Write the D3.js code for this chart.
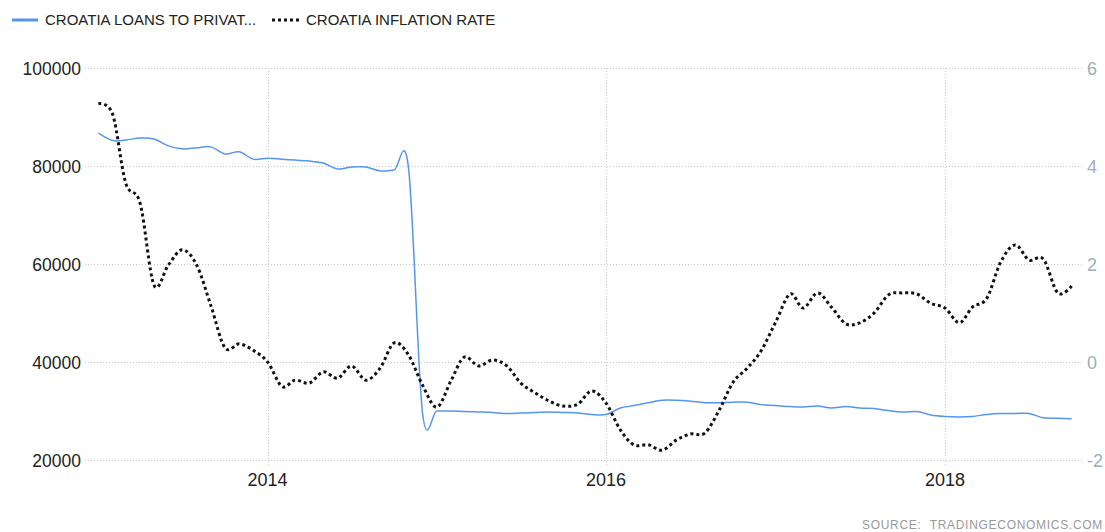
<!DOCTYPE html>
<html>
<head>
<meta charset="utf-8">
<script src="https://cdn.jsdelivr.net/npm/d3@7"></script>
<style>
  body { margin: 0; background: #fff; }
  svg { display: block; }
</style>
</head>
<body>
<svg width="1105" height="532"></svg>
<script>
// monthly observations, Jan 2013 .. Oct 2018
const months = d3.timeMonth.range(new Date(2013, 0, 1), new Date(2018, 10, 1));

// loans to private sector (left axis)
const loans = [86700, 85200, 85300, 85700, 85500, 84100, 83500, 83700, 83900, 82450,
  82900, 81400, 81600, 81400, 81200, 81000, 80600, 79400, 79800, 79800,
  79000, 79200, 79500, 29700, 30000, 30000, 29900, 29800, 29700, 29500,
  29600, 29700, 29800, 29700, 29600, 29300, 29300, 30600, 31100, 31700,
  32200, 32200, 32000, 31700, 31700, 31800, 31800, 31300, 31100, 30900,
  30800, 31000, 30600, 30900, 30600, 30500, 30100, 29800, 29900, 29200,
  28900, 28800, 28900, 29300, 29500, 29500, 29500, 28600, 28500, 28400];

// inflation rate (right axis)
const inflation = [5.27, 5.05, 3.65, 3.24, 1.57, 1.98, 2.29, 1.98, 1.14, 0.29,
  0.37, 0.24, 0.0, -0.5, -0.37, -0.43, -0.2, -0.33, -0.08, -0.37,
  -0.12, 0.39, 0.14, -0.47, -0.92, -0.37, 0.1, -0.08, 0.04, -0.08,
  -0.43, -0.63, -0.8, -0.9, -0.86, -0.59, -0.84, -1.39, -1.69, -1.69,
  -1.8, -1.59, -1.47, -1.45, -0.98, -0.41, -0.12, 0.24, 0.82, 1.39,
  1.1, 1.41, 1.12, 0.78, 0.8, 1.0, 1.37, 1.41, 1.39, 1.2,
  1.1, 0.8, 1.12, 1.3, 2.04, 2.39, 2.08, 2.1, 1.41, 1.55];

const leftTicks = [20000, 40000, 60000, 80000, 100000];
const rightTicks = [-2, 0, 2, 4, 6];
const yearTicks = [2014, 2016, 2018];
const legendNames = ['CROATIA LOANS TO PRIVAT...', 'CROATIA INFLATION RATE'];
const source = 'SOURCE:\u00a0\u00a0TRADINGECONOMICS.COM';

const svg = d3.select('svg');

// plot box
const gridLeft = 85;
const gridRight = 1082;
const plotTop = 68;
const plotBottom = 460;

const x = d3.scaleTime()
    .domain([new Date(2012, 11, 1), new Date(2018, 10, 1)])
    .range([84, 1086]);
const yLeft = d3.scaleLinear().domain([20000, 100000]).range([plotBottom, plotTop]);
const yRight = d3.scaleLinear().domain([-2, 6]).range([plotBottom, plotTop]);

const axisFont = '"Liberation Sans", Arial, sans-serif';

//horizontal grid
svg.append('g')
  .selectAll('line')
  .data(leftTicks)
  .join('line')
    .attr('x1', gridLeft)
    .attr('x2', gridRight)
    .attr('y1', d => yLeft(d) + 0.5)
    .attr('y2', d => yLeft(d) + 0.5)
    .attr('stroke', '#c8c8c8')
    .attr('stroke-dasharray', '1,2');

//vertical grid at years
svg.append('g')
  .selectAll('line')
  .data(yearTicks)
  .join('line')
    .attr('x1', d => Math.round(x(new Date(d, 0, 1))) + 0.5)
    .attr('x2', d => Math.round(x(new Date(d, 0, 1))) + 0.5)
    .attr('y1', plotTop)
    .attr('y2', plotBottom + 6)
    .attr('stroke', '#c8c8c8')
    .attr('stroke-dasharray', '1,2');

//left labels
svg.append('g')
  .selectAll('text')
  .data(leftTicks)
  .join('text')
    .attr('x', 81)
    .attr('y', d => yLeft(d) + 7)
    .attr('text-anchor', 'end')
    .attr('font-family', axisFont)
    .attr('font-size', 17.5)
    .attr('fill', '#222')
    .text(d => d);

//right labels
svg.append('g')
  .selectAll('text')
  .data(rightTicks)
  .join('text')
    .attr('x', 1087)
    .attr('y', d => yRight(d) + 7)
    .attr('font-family', axisFont)
    .attr('font-size', 18)
    .attr('fill', '#a3acb8')
    .text(d => d);

//year labels
svg.append('g')
  .selectAll('text')
  .data(yearTicks)
  .join('text')
    .attr('x', d => x(new Date(d, 0, 1)))
    .attr('y', 486)
    .attr('text-anchor', 'middle')
    .attr('font-family', axisFont)
    .attr('font-size', 18)
    .attr('fill', '#222')
    .text(d => d);

const curve = d3.curveCardinal.tension(0);

//loans line
const loansLine = d3.line()
    .x((d, i) => x(months[i]))
    .y(d => yLeft(d))
    .curve(curve);

svg.append('path')
    .attr('d', loansLine(loans))
    .attr('fill', 'none')
    .attr('stroke', '#5596ec')
    .attr('stroke-width', 1.5);

//inflation line
const inflLine = d3.line()
    .x((d, i) => x(months[i]))
    .y(d => yRight(d))
    .curve(curve);

svg.append('path')
    .attr('d', inflLine(inflation))
    .attr('fill', 'none')
    .attr('stroke', '#111')
    .attr('stroke-width', 3)
    .attr('stroke-dasharray', '3,3');

//legend
const legend = svg.append('g');
legend.append('line')
    .attr('x1', 12).attr('x2', 38)
    .attr('y1', 20).attr('y2', 20)
    .attr('stroke', '#5596ec')
    .attr('stroke-width', 3);
legend.append('text')
    .attr('x', 45).attr('y', 25)
    .attr('font-family', axisFont)
    .attr('font-size', 15)
    .attr('fill', '#222')
    .text(legendNames[0]);
legend.append('line')
    .attr('x1', 272).attr('x2', 299)
    .attr('y1', 20).attr('y2', 20)
    .attr('stroke', '#111')
    .attr('stroke-width', 3)
    .attr('stroke-dasharray', '3,3');
legend.append('text')
    .attr('x', 306).attr('y', 25)
    .attr('font-family', axisFont)
    .attr('font-size', 15)
    .attr('fill', '#222')
    .text(legendNames[1]);

//source
svg.append('text')
    .attr('x', 1103)
    .attr('y', 529)
    .attr('text-anchor', 'end')
    .attr('font-family', axisFont)
    .attr('font-size', 12)
    .attr('letter-spacing', 0.7)
    .attr('fill', '#9a9a9a')
    .text(source);
</script>
</body>
</html>
